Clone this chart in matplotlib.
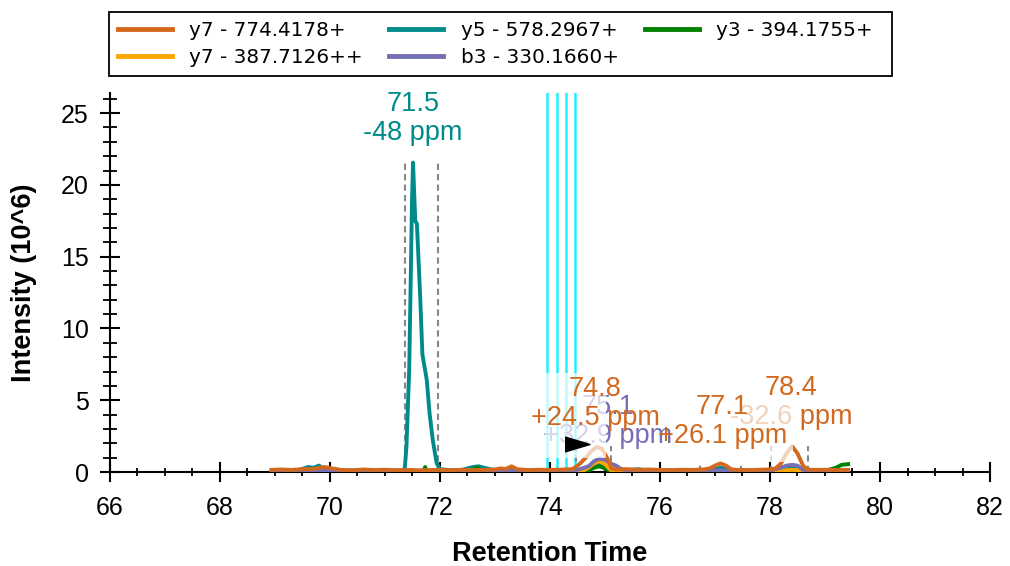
import matplotlib
matplotlib.use('Agg')
import matplotlib.pyplot as plt
from matplotlib.ticker import MultipleLocator
from matplotlib.patches import Rectangle

plt.rcParams['font.family'] = ['Liberation Sans', 'DejaVu Sans']

# colours used by the transitions
c_y7 = '#D2691E'
c_y5 = '#008B8B'
c_y3 = '#008000'
c_y7b = '#FFA500'
c_b3 = '#7570B3'

# y7 - 774.4178+
t_y7 = [68.94, 69.1, 69.3, 69.5, 69.7, 69.9, 70.0, 70.2, 70.4, 70.6, 70.8, 71.0, 71.2, 71.4,
        71.6, 71.8, 72.0, 72.2, 72.4, 72.6, 72.8, 73.0, 73.1, 73.2, 73.3, 73.4, 73.6, 73.8,
        74.0, 74.2, 74.4, 74.45, 74.55, 74.65, 74.75, 74.85, 74.95, 75.05, 75.12, 75.2, 75.4,
        75.6, 75.8, 76.0, 76.2, 76.4, 76.6, 76.8, 76.9, 77.0, 77.1, 77.2, 77.3, 77.4, 77.6,
        77.8, 78.0, 78.1, 78.2, 78.3, 78.4, 78.5, 78.6, 78.68, 78.8, 79.0, 79.2, 79.42]
i_y7 = [0.15, 0.18, 0.15, 0.2, 0.22, 0.35, 0.28, 0.15, 0.12, 0.18, 0.14, 0.16, 0.13, 0.15,
        0.12, 0.14, 0.15, 0.13, 0.16, 0.14, 0.15, 0.18, 0.25, 0.22, 0.4, 0.2, 0.14, 0.16,
        0.15, 0.17, 0.2, 0.3, 0.6, 1.0, 1.45, 1.75, 1.6, 0.9, 0.25, 0.18, 0.2,
        0.15, 0.18, 0.15, 0.14, 0.16, 0.15, 0.18, 0.25, 0.45, 0.6, 0.45, 0.18, 0.15, 0.14,
        0.16, 0.18, 0.25, 0.6, 1.3, 1.8, 1.3, 0.45, 0.18, 0.15, 0.16, 0.14, 0.15]

# y5 - 578.2967+
t_y5 = [68.94, 69.2, 69.4, 69.6, 69.7, 69.8, 69.9, 70.2, 70.5, 70.8, 71.0, 71.2, 71.33, 71.36,
        71.39, 71.44, 71.47, 71.49, 71.51, 71.55, 71.58, 71.64, 71.68, 71.76, 71.81, 71.87,
        71.94, 72.0, 72.2, 72.4, 72.6, 72.7, 72.8, 73.0, 73.3, 73.6, 74.0, 74.4, 74.6, 74.8,
        74.9, 75.0, 75.1, 75.4, 75.6, 75.8, 76.2, 76.6, 77.0, 77.1, 77.2, 77.5, 78.0, 78.3,
        78.4, 78.5, 78.8, 79.1, 79.42]
i_y5 = [0.1, 0.12, 0.1, 0.35, 0.3, 0.45, 0.15, 0.1, 0.12, 0.1, 0.12, 0.1, 0.15, 0.26,
        1.76, 7.1, 13.9, 18.7, 21.55, 17.5, 17.3, 12.2, 8.2, 6.4, 4.1, 2.2,
        0.6, 0.2, 0.12, 0.15, 0.35, 0.4, 0.3, 0.12, 0.15, 0.12, 0.1, 0.12, 0.2, 0.4,
        0.5, 0.35, 0.15, 0.12, 0.2, 0.1, 0.12, 0.1, 0.2, 0.3, 0.2, 0.1, 0.12, 0.2,
        0.25, 0.2, 0.1, 0.15, 0.12]

# y3 - 394.1755+
t_y3 = [68.94, 70.0, 71.0, 71.7, 71.73, 71.76, 72.5, 72.67, 72.8, 73.0, 74.0, 74.7, 74.8,
        74.9, 75.0, 75.1, 76.0, 77.0, 78.0, 78.4, 79.0, 79.2, 79.3, 79.42]
i_y3 = [0.05, 0.05, 0.05, 0.05, 0.35, 0.05, 0.05, 0.3, 0.05, 0.08, 0.05, 0.1, 0.3,
        0.4, 0.25, 0.05, 0.05, 0.08, 0.05, 0.12, 0.08, 0.3, 0.5, 0.55]

# y7 - 387.7126++
t_y7b = [68.94, 70.0, 71.0, 72.0, 73.0, 74.0, 74.6, 74.7, 74.8, 74.9, 75.0, 75.1, 75.2,
         76.0, 77.0, 78.0, 78.4, 79.0, 79.42]
i_y7b = [0.05, 0.06, 0.05, 0.06, 0.05, 0.06, 0.1, 0.3, 0.6, 0.75, 0.55, 0.15, 0.06,
         0.05, 0.08, 0.06, 0.15, 0.05, 0.06]

# b3 - 330.1660+
t_b3 = [68.94, 69.5, 70.0, 70.5, 71.0, 71.5, 72.0, 72.5, 73.0, 73.5, 74.0, 74.5, 74.7, 74.8,
        74.9, 75.0, 75.1, 75.2, 75.3, 75.4, 76.0, 76.5, 77.0, 77.5, 78.0, 78.2, 78.3, 78.4,
        78.5, 78.6, 79.0, 79.42]
i_b3 = [0.08, 0.1, 0.12, 0.08, 0.1, 0.08, 0.1, 0.08, 0.1, 0.08, 0.1, 0.15, 0.4, 0.75,
        0.95, 0.85, 0.6, 0.45, 0.2, 0.1, 0.08, 0.1, 0.12, 0.08, 0.1, 0.3, 0.45, 0.5,
        0.45, 0.15, 0.08, 0.1]

# MS/MS identification times
id_times = [73.94, 74.12, 74.29, 74.45]

# peak boundaries: (start, end, height)
bounds = [(71.36, 71.97, 21.55), (74.48, 75.11, 1.8), (76.73, 77.47, 0.6), (78.01, 78.70, 1.8)]

# peak labels: (rt, text, colour, y centre)
lbl_main = (71.51, '71.5\n-48 ppm', c_y5, 24.6)
lbl_748 = (74.82, '74.8\n+24.5 ppm', c_y7, 4.76)
lbl_751 = (75.05, '75.1\n+32.9 ppm', c_b3, 3.5)
lbl_771 = (77.13, '77.1\n+26.1 ppm', c_y7, 3.54)
lbl_784 = (78.38, '78.4\n-32.6 ppm', c_y7, 4.83)

arrow_pos = (74.5, 1.95)

fig = plt.figure(figsize=(10.1, 5.66), dpi=100)
ax = fig.add_axes([0.1089, 0.166, 0.8713, 0.6697])

for t in id_times:
    ax.axvline(t, color='#22EEFF', lw=1.8, zorder=1)

for b0, b1, h in bounds:
    ax.plot([b0, b0], [0, h], color='#888888', ls=(0, (3, 2)), lw=1.5, zorder=2)
    ax.plot([b1, b1], [0, h], color='#888888', ls=(0, (3, 2)), lw=1.5, zorder=2)

lw = 2.8
h_y5, = ax.plot(t_y5, i_y5, color=c_y5, lw=lw, zorder=3, label='y5 - 578.2967+')
h_y3, = ax.plot(t_y3, i_y3, color=c_y3, lw=lw, zorder=3, label='y3 - 394.1755+')
h_y7b, = ax.plot(t_y7b, i_y7b, color=c_y7b, lw=lw, zorder=3, label='y7 - 387.7126++')
h_b3, = ax.plot(t_b3, i_b3, color=c_b3, lw=lw, zorder=3, label='b3 - 330.1660+')
h_y7, = ax.plot(t_y7, i_y7, color=c_y7, lw=lw, zorder=3, label='y7 - 774.4178+')

fs = 19.5
def peak_label(lbl, z):
    x, s, c, y = lbl
    ax.text(x, y, s, color=c, fontsize=fs, ha='center', va='center',
            multialignment='center', linespacing=1.15, zorder=z)

peak_label(lbl_main, 7)
peak_label(lbl_751, 5)
peak_label(lbl_784, 5)
# translucent label backgrounds overlapping neighbouring labels
ax.add_patch(Rectangle((73.91, 0.97), 1.11, 5.93, facecolor='white', alpha=0.7,
                       edgecolor='none', zorder=6))
ax.add_patch(Rectangle((77.24, 0.7), 1.18, 4.3, facecolor='white', alpha=0.7,
                       edgecolor='none', zorder=6))
peak_label(lbl_748, 7)
peak_label(lbl_771, 7)

ax.plot([arrow_pos[0]], [arrow_pos[1]], marker=[(-1, 0.6), (1, 0), (-1, -0.6)],
        markersize=18, color='black', zorder=8)

ax.set_xlim(66, 82)
ax.set_ylim(0, 26.4)
ax.xaxis.set_major_locator(MultipleLocator(2))
ax.xaxis.set_minor_locator(MultipleLocator(0.5))
ax.yaxis.set_major_locator(MultipleLocator(5))
ax.yaxis.set_minor_locator(MultipleLocator(1))

for s in ['top', 'right']:
    ax.spines[s].set_visible(False)
for s in ['left', 'bottom']:
    ax.spines[s].set_linewidth(1.5)

ax.tick_params(axis='x', which='major', direction='inout', length=13.7, width=1.5,
               labelsize=18, pad=10.5)
ax.tick_params(axis='x', which='minor', direction='inout', length=5.8, width=1.3)
ax.tick_params(axis='y', which='major', direction='inout', length=14.4, width=1.5,
               labelsize=18, pad=8)
ax.tick_params(axis='y', which='minor', direction='inout', length=9.4, width=1.3)

ax.set_xlabel('Retention Time', fontsize=19.5, fontweight='bold', labelpad=15)
ax.set_ylabel('Intensity (10^6)', fontsize=19.5, fontweight='bold', labelpad=17)

leg = fig.legend(handles=[h_y7, h_y7b, h_y5, h_b3, h_y3], ncol=3,
                 loc='upper left', bbox_to_anchor=(0.1082, 0.9783),
                 prop={'family': 'DejaVu Sans', 'size': 14.4},
                 handlelength=2.7, handletextpad=0.88, labelspacing=0.42,
                 columnspacing=1.3, borderpad=0.42, borderaxespad=0, frameon=False)
for line in leg.get_lines():
    line.set_linewidth(3.5)
fig.patches.append(Rectangle((0.1082, 0.8663), 0.7747, 0.112, transform=fig.transFigure,
                             fill=False, edgecolor='black', lw=1.3))

fig.savefig('out.png', dpi=100)
